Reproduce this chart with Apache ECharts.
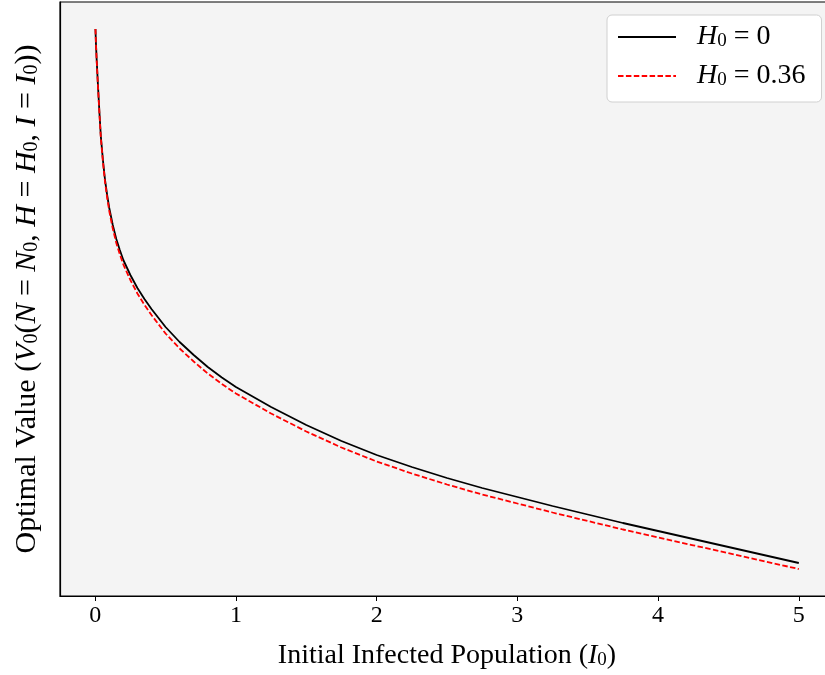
<!DOCTYPE html>
<html>
<head>
<meta charset="utf-8">
<script src="https://cdn.jsdelivr.net/npm/echarts@6/dist/echarts.min.js"></script>
<style>
html, body { margin: 0; padding: 0; background: #fff; overflow: hidden; }
#container { width: 834px; height: 675px; }
</style>
</head>
<body>
<div id="container"></div>
<script>
// initial infected population I0
var infected = [0.002, 0.005, 0.01, 0.02, 0.03, 0.04, 0.055, 0.07, 0.085, 0.1,
    0.125, 0.15, 0.175, 0.2, 0.25, 0.3, 0.35, 0.4, 0.5, 0.6,
    0.7, 0.8, 0.9, 1.0, 1.25, 1.5, 1.75, 2.0, 2.25, 2.5,
    2.75, 3.0, 3.25, 3.5, 3.75, 4.0, 4.25, 4.5, 4.75, 5.0];
// optimal value, H0 = 0 (arbitrary units)
var valueH0 = [57.1, 55.8, 54.2, 51.4, 48.8, 46.4, 44.0, 42.0, 40.5, 39.2,
    37.5, 36.1, 35.0, 34.0, 32.5, 31.2, 30.1, 29.1, 27.3, 25.8,
    24.5, 23.3, 22.25, 21.3, 19.3, 17.5, 15.9, 14.5, 13.3, 12.2,
    11.2, 10.3, 9.4, 8.55, 7.7, 6.9, 6.1, 5.3, 4.5, 3.7];
// optimal value, H0 = 0.36
var valueH036 = [57.1, 55.78, 54.15, 51.3, 48.68, 46.25, 43.82, 41.8, 40.25, 38.9,
    37.15, 35.7, 34.57, 33.55, 32.0, 30.65, 29.52, 28.5, 26.65, 25.15,
    23.85, 22.65, 21.6, 20.65, 18.65, 16.85, 15.25, 13.85, 12.65, 11.55,
    10.55, 9.65, 8.75, 7.9, 7.05, 6.25, 5.47, 4.68, 3.89, 3.1];
var xTicks = [0, 1, 2, 3, 4, 5];
var seriesNames = ['H0 = 0', 'H0 = 0.36'];

function pairs(xs, ys) {
    return xs.map(function (x, i) { return [x, ys[i]]; });
}

var serif = '"Liberation Serif", "DejaVu Serif", serif';
function mathRich(size) {
    return {
        r: { fontFamily: serif, fontSize: size, color: '#000' },
        i: { fontFamily: serif, fontSize: size, fontStyle: 'italic', color: '#000' },
        s: { fontFamily: serif, fontSize: Math.round(size * 0.68), color: '#000', lineHeight: 12, verticalAlign: 'bottom' }
    };
}

var dom = document.getElementById("container");
var myChart = echarts.init(dom);
var option = {
    animation: false,
    backgroundColor: '#fff',
    grid: {
        left: 60,
        right: 0,
        top: 2,
        bottom: 79,
        show: true,
        backgroundColor: '#f4f4f4',
        borderColor: '#000',
        borderWidth: 1.2
    },
    legend: {
        orient: 'vertical',
        left: 607,
        top: 15,
        data: seriesNames,
        itemWidth: 58,
        itemHeight: 14,
        itemGap: 11,
        padding: [8, 16, 12, 10],
        backgroundColor: '#fff',
        borderColor: '#d0d0d0',
        borderWidth: 1,
        borderRadius: 5,
        itemStyle: { opacity: 0 },
        textStyle: { rich: mathRich(28), padding: [0, 0, 0, 16] },
        formatter: function (name) {
            var v = name === seriesNames[0] ? '0' : '0.36';
            return '{i|H}{s|0}{r| = ' + v + '}';
        }
    },
    xAxis: {
        type: 'value',
        min: -0.25,
        max: 5.25,
        splitLine: { show: false },
        axisLine: { onZero: false, lineStyle: { color: '#000', width: 1.2 } },
        axisTick: { customValues: xTicks, length: 5, lineStyle: { color: '#000' } },
        axisLabel: {
            customValues: xTicks,
            color: '#000',
            fontFamily: serif,
            fontSize: 24,
            margin: 8
        },
        name: '{r|Initial Infected Population (}{i|I}{s|0}{r|)}',
        nameLocation: 'middle',
        nameGap: 46,
        nameTextStyle: { rich: mathRich(28) }
    },
    yAxis: {
        type: 'value',
        min: 0.4,
        max: 59.8,
        splitLine: { show: false },
        axisLine: { show: true, onZero: false, lineStyle: { color: '#000', width: 1.2 } },
        axisTick: { show: false },
        axisLabel: { show: false },
        name: '{r|Optimal Value (}{i|V}{s|0}{r|(}{i|N}{r| = }{i|N}{s|0}{r|, }{i|H}{r| = }{i|H}{s|0}{r|, }{i|I}{r| = }{i|I}{s|0}{r|))}',
        nameLocation: 'middle',
        nameRotate: 90,
        nameGap: 18,
        nameTextStyle: { rich: mathRich(30) }
    },
    series: [
        {
            name: seriesNames[0],
            type: 'line',
            data: pairs(infected, valueH0),
            showSymbol: false,
            symbol: 'none',
            smooth: false,
            lineStyle: { color: '#000', width: 1.8 },
            itemStyle: { color: '#000' },
            z: 3
        },
        {
            name: seriesNames[1],
            type: 'line',
            data: pairs(infected, valueH036),
            showSymbol: false,
            symbol: 'none',
            smooth: false,
            lineStyle: { color: '#ff0000', width: 1.8, type: [5.5, 2.4] },
            itemStyle: { color: '#ff0000' },
            z: 4
        }
    ]
};
if (option && typeof option === "object") {
    myChart.setOption(option, true);
}
</script>
</body>
</html>
